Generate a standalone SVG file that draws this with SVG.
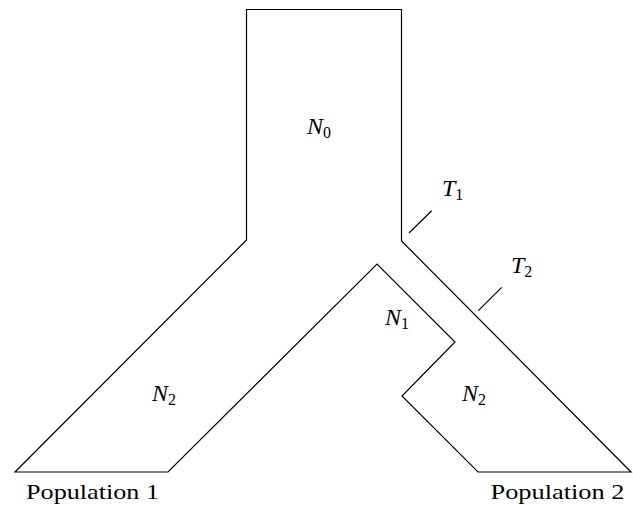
<svg xmlns="http://www.w3.org/2000/svg" width="633" height="505" viewBox="0 0 633 505">
<style>
.o{fill:none;stroke:#000;stroke-width:1.2;stroke-linejoin:miter}
.v{font-style:italic;font-size:24px;fill:#000}
.s{font-style:normal;font-size:16px}
.p{font-size:22px;fill:#000}
</style>
<rect width="633" height="505" fill="#fff"/>
<g id="tree">
<path class="o" d="M246.5,9.5 H401.5 V241 L631,472 H478 L402,396 L455,342 L377,264 L168,472 H15 L246.5,240 Z"/>
</g>
<g id="ticks">
<line class="o" x1="409" y1="233" x2="431.7" y2="210.7"/>
<line class="o" x1="478.3" y1="310.7" x2="501.7" y2="287.3"/>
</g>
<g id="labels" font-family="Liberation Serif, serif">
<text class="v" x="307" y="133.5">N<tspan class="s" dy="4">0</tspan></text>
<text class="v" x="442" y="196">T<tspan class="s" dy="4">1</tspan></text>
<text class="v" x="511" y="273">T<tspan class="s" dy="4">2</tspan></text>
<text class="v" x="385" y="325">N<tspan class="s" dy="4">1</tspan></text>
<text class="v" x="152" y="401">N<tspan class="s" dy="4">2</tspan></text>
<text class="v" x="462" y="401">N<tspan class="s" dy="4">2</tspan></text>
<text class="p" x="26" y="499" textLength="133" lengthAdjust="spacingAndGlyphs">Population 1</text>
<text class="p" x="490.5" y="499" textLength="134" lengthAdjust="spacingAndGlyphs">Population 2</text>
</g>
</svg>
